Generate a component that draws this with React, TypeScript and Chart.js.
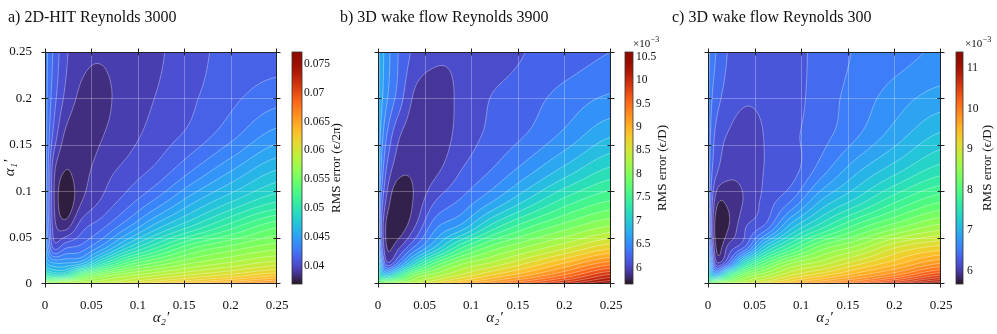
import React, { useEffect, useRef } from "react";
import { Chart, registerables } from "chart.js";

Chart.register(...registerables);

const alphaSamples = [0, 0.0025, 0.01, 0.0225, 0.04, 0.0625, 0.09, 0.1225, 0.16, 0.2025, 0.25];
const axisTicks = [0, 0.05, 0.1, 0.15, 0.2, 0.25];

// rows: alpha1' = alphaSamples[row] (bottom -> top); columns: alpha2' = alphaSamples[col]
const rmsHIT3000 = [
  [0.0771, 0.0610, 0.0578, 0.0582, 0.0594, 0.0610, 0.0626, 0.0642, 0.0658, 0.0670, 0.0682],
  [0.0549, 0.0561, 0.0557, 0.0570, 0.0578, 0.0586, 0.0598, 0.0614, 0.0628, 0.0642, 0.0658],
  [0.0509, 0.0501, 0.0489, 0.0493, 0.0537, 0.0561, 0.0576, 0.0588, 0.0600, 0.0612, 0.0626],
  [0.0477, 0.0457, 0.0449, 0.0449, 0.0457, 0.0497, 0.0533, 0.0553, 0.0570, 0.0582, 0.0594],
  [0.0457, 0.0437, 0.0404, 0.0416, 0.0422, 0.0443, 0.0478, 0.0509, 0.0537, 0.0553, 0.0565],
  [0.0449, 0.0428, 0.0392, 0.0384, 0.0404, 0.0416, 0.0437, 0.0465, 0.0490, 0.0515, 0.0537],
  [0.0445, 0.0424, 0.0388, 0.0370, 0.0388, 0.0400, 0.0414, 0.0432, 0.0456, 0.0478, 0.0497],
  [0.0441, 0.0424, 0.0390, 0.0378, 0.0384, 0.0394, 0.0402, 0.0412, 0.0429, 0.0449, 0.0469],
  [0.0439, 0.0426, 0.0404, 0.0386, 0.0382, 0.0388, 0.0395, 0.0403, 0.0412, 0.0426, 0.0443],
  [0.0437, 0.0428, 0.0412, 0.0396, 0.0386, 0.0386, 0.0393, 0.0399, 0.0407, 0.0416, 0.0424],
  [0.0437, 0.0429, 0.0416, 0.0400, 0.0391, 0.0389, 0.0393, 0.0397, 0.0405, 0.0412, 0.0414],
];

// x 10^-3
const rmsWake3900 = [
  [7.88, 7.98, 8.22, 8.47, 8.72, 8.97, 9.21, 9.51, 9.86, 10.20, 10.60],
  [7.73, 7.73, 7.88, 8.03, 8.27, 8.57, 8.87, 9.17, 9.51, 9.91, 10.35],
  [7.48, 7.14, 6.89, 7.36, 7.95, 8.20, 8.47, 8.77, 9.07, 9.46, 9.96],
  [7.28, 6.74, 6.02, 6.39, 7.09, 7.68, 8.09, 8.32, 8.62, 8.97, 9.36],
  [7.14, 6.39, 5.80, 5.95, 6.34, 6.84, 7.43, 7.85, 8.13, 8.41, 8.72],
  [7.04, 6.29, 5.75, 5.70, 5.98, 6.44, 6.69, 7.19, 7.58, 7.88, 8.13],
  [6.99, 6.37, 5.92, 5.65, 5.85, 6.15, 6.34, 6.62, 6.99, 7.37, 7.63],
  [6.96, 6.54, 6.10, 5.87, 5.84, 5.95, 6.15, 6.32, 6.57, 6.88, 7.18],
  [6.94, 6.64, 6.29, 6.00, 5.87, 5.87, 6.05, 6.19, 6.32, 6.53, 6.79],
  [6.91, 6.74, 6.49, 6.24, 5.95, 5.90, 6.02, 6.15, 6.24, 6.37, 6.49],
  [6.89, 6.76, 6.54, 6.30, 6.10, 6.01, 6.00, 6.05, 6.15, 6.23, 6.31],
];

// x 10^-3
const rmsWake300 = [
  [8.25, 8.37, 8.65, 8.94, 9.23, 9.51, 9.80, 10.14, 10.54, 10.94, 11.29],
  [7.97, 7.97, 8.25, 8.45, 8.74, 9.05, 9.40, 9.72, 10.05, 10.49, 10.94],
  [7.57, 7.28, 6.94, 7.74, 8.37, 8.65, 8.99, 9.26, 9.58, 9.94, 10.42],
  [7.28, 6.82, 6.02, 6.42, 7.45, 8.08, 8.54, 8.78, 9.11, 9.44, 9.80],
  [7.05, 6.48, 5.79, 6.05, 6.34, 7.20, 7.77, 8.29, 8.58, 9.00, 9.22],
  [6.94, 6.31, 5.71, 5.84, 6.14, 6.37, 7.04, 7.52, 7.96, 8.31, 8.59],
  [6.88, 6.37, 5.88, 5.88, 6.02, 6.22, 6.48, 6.97, 7.32, 7.72, 8.03],
  [6.82, 6.42, 6.17, 6.05, 6.05, 6.17, 6.25, 6.57, 6.92, 7.22, 7.51],
  [6.80, 6.48, 6.25, 6.14, 6.08, 6.17, 6.28, 6.42, 6.62, 6.88, 7.14],
  [6.77, 6.54, 6.37, 6.25, 6.18, 6.19, 6.25, 6.40, 6.54, 6.71, 6.85],
  [6.77, 6.60, 6.45, 6.30, 6.22, 6.21, 6.25, 6.38, 6.49, 6.57, 6.66],
];

const cbTicksHIT = [0.04, 0.045, 0.05, 0.055, 0.06, 0.065, 0.07, 0.075];
const cbTicks3900 = [6, 6.5, 7, 7.5, 8, 8.5, 9, 9.5, 10, 10.5];
const cbTicks300 = [6, 7, 8, 9, 10, 11];
const rangeHIT = [0.0368, 0.0771];
const range3900 = [5.65, 10.6];
const range300 = [5.68, 11.4];
const levelCountHIT = 40;
const levelCount3900 = 30;
const levelCount300 = 36;

const panelTitles = [
  "a) 2D-HIT Reynolds 3000",
  "b) 3D wake flow Reynolds 3900",
  "c) 3D wake flow Reynolds 300",
];
const colorbarLabels = ["RMS error (\u03f5/2\u03c0)", "RMS error (\u03f5/D)", "RMS error (\u03f5/D)"];
const xAxisLabel = "\u03b1\u2082\u2032";
const yAxisLabel = "\u03b1\u2081\u2032";

const SERIF = "'Liberation Serif', 'DejaVu Serif', 'Times New Roman', serif";
const INK = "#111";

function turbo(t: number): number[] {
  const x = Math.min(1, Math.max(0, t));
  const r = 0.13572138 + x * (4.6153926 + x * (-42.66032258 + x * (132.13108234 + x * (-152.94239396 + x * 59.28637943))));
  const g = 0.09140261 + x * (2.19418839 + x * (4.84296658 + x * (-14.18503333 + x * (4.27729857 + x * 2.82956604))));
  const b = 0.1066733 + x * (12.64194608 + x * (-60.58204836 + x * (110.36276771 + x * (-89.90310912 + x * 27.34824973))));
  const c = (v: number) => Math.max(0, Math.min(255, Math.round(v * 255)));
  return [c(r), c(g), c(b)];
}

function fracIndex(v: number, samples: number[]): number {
  const n = samples.length;
  if (!(v > samples[0])) return 0;
  if (v >= samples[n - 1]) return n - 1;
  let k = 0;
  while (k < n - 2 && samples[k + 1] <= v) k++;
  const a = Math.sqrt(samples[k]);
  const b = Math.sqrt(samples[k + 1]);
  return k + (Math.sqrt(v) - a) / (b - a);
}

function catmull(p0: number, p1: number, p2: number, p3: number, t: number) {
  return p1 + 0.5 * t * (p2 - p0 + t * (2 * p0 - 5 * p1 + 4 * p2 - p3 + t * (3 * (p1 - p2) + p3 - p0)));
}

function sampleField(field: number[][], fx: number, fy: number) {
  const nx = field[0].length;
  const ny = field.length;
  let i = Math.floor(fx);
  let j = Math.floor(fy);
  if (i > nx - 2) i = nx - 2;
  if (j > ny - 2) j = ny - 2;
  if (i < 0) i = 0;
  if (j < 0) j = 0;
  const tx = fx - i;
  const ty = fy - j;
  const at = (r: number, c: number) =>
    field[Math.max(0, Math.min(ny - 1, r))][Math.max(0, Math.min(nx - 1, c))];
  const col: number[] = [];
  for (let d = -1; d <= 2; d++) {
    const r = j + d;
    col.push(catmull(at(r, i - 1), at(r, i), at(r, i + 1), at(r, i + 2), tx));
  }
  return catmull(col[0], col[1], col[2], col[3], ty);
}

function fmt(v: any) {
  return String(parseFloat(Number(v).toFixed(4)));
}

type Panel = {
  key: string;
  field: number[][];
  range: number[];
  levels: number;
  cbTicks: number[];
  title: string;
  cbLabel: string;
  showY: boolean;
  padLeft: number;
  yWidth: number;
  padRight: number;
  cbWidth: number;
  titleX: number;
  cbGap: number;
  cbBar: number;
  cbLabelGap: number;
  cbTitleDx: number;
  expDx: number | null;
};

const panels: Panel[] = [
  {
    key: "a", field: rmsHIT3000, range: rangeHIT, levels: levelCountHIT, cbTicks: cbTicksHIT,
    title: panelTitles[0], cbLabel: colorbarLabels[0], showY: true,
    padLeft: 1, yWidth: 44, padRight: 650, cbWidth: 70, titleX: 8,
    cbGap: 15, cbBar: 10, cbLabelGap: 27, cbTitleDx: 60, expDx: null,
  },
  {
    key: "b", field: rmsWake3900, range: range3900, levels: levelCount3900, cbTicks: cbTicks3900,
    title: panelTitles[1], cbLabel: colorbarLabels[1], showY: false,
    padLeft: 368, yWidth: 10, padRight: 316, cbWidth: 70, titleX: 340,
    cbGap: 14, cbBar: 8, cbLabelGap: 25, cbTitleDx: 52, expDx: 22,
  },
  {
    key: "c", field: rmsWake300, range: range300, levels: levelCount300, cbTicks: cbTicks300,
    title: panelTitles[2], cbLabel: colorbarLabels[2], showY: false,
    padLeft: 698, yWidth: 10, padRight: 4, cbWidth: 52, titleX: 672,
    cbGap: 15, cbBar: 7, cbLabelGap: 26, cbTitleDx: 47, expDx: 24,
  },
];

function makeFieldPlugin(p: Panel) {
  return {
    id: "contourField_" + p.key,
    afterDraw(chart: any) {
      const ctx: CanvasRenderingContext2D = chart.ctx;
      const { left, top, right, bottom } = chart.chartArea;
      const xs = chart.scales.x;
      const ys = chart.scales.y;
      const cb = chart.scales.cb;
      const W = Math.round(right - left);
      const H = Math.round(bottom - top);
      const [vmin, vmax] = p.range;
      const N = p.levels;
      const step = (vmax - vmin) / N;

      const fxC: number[] = [];
      const fyC: number[] = [];
      for (let i = 0; i <= W; i++) fxC.push(fracIndex(xs.getValueForPixel(left + i), alphaSamples));
      for (let j = 0; j <= H; j++) fyC.push(fracIndex(ys.getValueForPixel(top + j), alphaSamples));
      const corner = new Float64Array((W + 1) * (H + 1));
      for (let j = 0; j <= H; j++)
        for (let i = 0; i <= W; i++) corner[j * (W + 1) + i] = sampleField(p.field, fxC[i], fyC[j]);

      const palette: number[][] = [];
      for (let k = 0; k < N; k++) palette.push(turbo((k + 0.5) / N));
      const off = document.createElement("canvas");
      off.width = W;
      off.height = H;
      const octx = off.getContext("2d")!;
      const img = octx.createImageData(W, H);
      const fxM: number[] = [];
      for (let i = 0; i < W; i++) fxM.push(fracIndex(xs.getValueForPixel(left + i + 0.5), alphaSamples));
      for (let j = 0; j < H; j++) {
        const fy = fracIndex(ys.getValueForPixel(top + j + 0.5), alphaSamples);
        for (let i = 0; i < W; i++) {
          const v = sampleField(p.field, fxM[i], fy);
          let k = Math.floor((v - vmin) / step);
          if (k < 0) k = 0;
          if (k > N - 1) k = N - 1;
          const c = palette[k];
          const o = (j * W + i) * 4;
          img.data[o] = c[0];
          img.data[o + 1] = c[1];
          img.data[o + 2] = c[2];
          img.data[o + 3] = 255;
        }
      }
      octx.putImageData(img, 0, 0);
      ctx.save();
      ctx.drawImage(off, left, top);

      // contour lines (marching squares)
      ctx.beginPath();
      for (let j = 0; j < H; j++) {
        for (let i = 0; i < W; i++) {
          const a = corner[j * (W + 1) + i];
          const b = corner[j * (W + 1) + i + 1];
          const c = corner[(j + 1) * (W + 1) + i + 1];
          const d = corner[(j + 1) * (W + 1) + i];
          const lo = Math.min(a, b, c, d);
          const hi = Math.max(a, b, c, d);
          const k0 = Math.max(1, Math.ceil((lo - vmin) / step));
          const k1 = Math.min(N - 1, Math.floor((hi - vmin) / step));
          for (let k = k0; k <= k1; k++) {
            const L = vmin + k * step;
            const pts: number[][] = [];
            if ((a < L) !== (b < L)) pts.push([left + i + (L - a) / (b - a), top + j]);
            if ((b < L) !== (c < L)) pts.push([left + i + 1, top + j + (L - b) / (c - b)]);
            if ((d < L) !== (c < L)) pts.push([left + i + (L - d) / (c - d), top + j + 1]);
            if ((a < L) !== (d < L)) pts.push([left + i, top + j + (L - a) / (d - a)]);
            if (pts.length >= 2) {
              ctx.moveTo(pts[0][0], pts[0][1]);
              ctx.lineTo(pts[1][0], pts[1][1]);
            }
            if (pts.length === 4) {
              ctx.moveTo(pts[2][0], pts[2][1]);
              ctx.lineTo(pts[3][0], pts[3][1]);
            }
          }
        }
      }
      ctx.strokeStyle = "rgba(255,255,255,0.42)";
      ctx.lineWidth = 0.8;
      ctx.stroke();

      // grid lines
      ctx.beginPath();
      for (const v of axisTicks) {
        if (v <= 0 || v >= 0.25) continue;
        const px = Math.round(xs.getPixelForValue(v)) + 0.5;
        ctx.moveTo(px, top);
        ctx.lineTo(px, bottom);
        const py = Math.round(ys.getPixelForValue(v)) + 0.5;
        ctx.moveTo(left, py);
        ctx.lineTo(right, py);
      }
      ctx.strokeStyle = "rgba(255,255,255,0.28)";
      ctx.lineWidth = 1;
      ctx.stroke();

      // frame and ticks
      ctx.strokeStyle = "#222";
      ctx.lineWidth = 1;
      ctx.strokeRect(left + 0.5, top + 0.5, W - 1, H - 1);
      ctx.beginPath();
      for (const v of axisTicks) {
        const px = Math.min(right - 0.5, Math.max(left + 0.5, Math.round(xs.getPixelForValue(v)) + 0.5));
        ctx.moveTo(px, bottom - 3.5);
        ctx.lineTo(px, bottom + 3.5);
        ctx.moveTo(px, top - 3.5);
        ctx.lineTo(px, top + 3.5);
        const py = Math.min(bottom - 0.5, Math.max(top + 0.5, Math.round(ys.getPixelForValue(v)) + 0.5));
        ctx.moveTo(left - 3.5, py);
        ctx.lineTo(left + 3.5, py);
        ctx.moveTo(right - 3.5, py);
        ctx.lineTo(right + 3.5, py);
      }
      ctx.stroke();

      // colorbar
      const cbx = right + p.cbGap;
      for (let j = 0; j < H; j++) {
        const v = cb.getValueForPixel(top + j + 0.5);
        const c = turbo((v - vmin) / (vmax - vmin));
        ctx.fillStyle = `rgb(${c[0]},${c[1]},${c[2]})`;
        ctx.fillRect(cbx, top + j, p.cbBar, 1);
      }
      ctx.strokeStyle = "#333";
      ctx.lineWidth = 0.8;
      ctx.strokeRect(cbx, top, p.cbBar, H);

      // colorbar label
      ctx.fillStyle = INK;
      ctx.save();
      ctx.translate(right + p.cbTitleDx, (top + bottom) / 2);
      ctx.rotate(-Math.PI / 2);
      ctx.textAlign = "center";
      ctx.textBaseline = "middle";
      ctx.font = `13px ${SERIF}`;
      ctx.fillText(p.cbLabel, 0, 0);
      ctx.restore();

      // exponent
      if (p.expDx !== null) {
        ctx.textAlign = "left";
        ctx.textBaseline = "alphabetic";
        ctx.font = `11px ${SERIF}`;
        const ex = right + p.expDx;
        ctx.fillText("\u00d710", ex, 47);
        const w = ctx.measureText("\u00d710").width;
        ctx.font = `8px ${SERIF}`;
        ctx.fillText("\u22123", ex + w + 0.5, 42);
      }

      // panel title
      ctx.textAlign = "left";
      ctx.textBaseline = "alphabetic";
      ctx.font = `16px ${SERIF}`;
      ctx.fillText(p.title, p.titleX, 22);
      ctx.restore();
    },
  };
}

function buildConfig(p: Panel): any {
  const setTicks = (vals: number[]) => (axis: any) => {
    axis.ticks = vals.map((value) => ({ value }));
  };
  return {
    type: "scatter",
    data: { datasets: [] },
    options: {
      responsive: false,
      animation: false,
      devicePixelRatio: 1,
      events: [],
      layout: { padding: { left: p.padLeft, right: p.padRight, top: 52, bottom: 7 } },
      plugins: { legend: { display: false }, tooltip: { enabled: false }, title: { display: false } },
      scales: {
        x: {
          type: "linear",
          position: "bottom",
          min: 0,
          max: 0.25,
          bounds: "data",
          afterBuildTicks: setTicks(axisTicks),
          afterFit: (s: any) => {
            s.height = 43;
          },
          grid: { display: false },
          border: { display: false },
          ticks: { autoSkip: false, maxRotation: 0, padding: 6, color: INK, font: { family: SERIF, size: 13 }, callback: fmt },
          title: { display: true, text: xAxisLabel, color: INK, font: { family: SERIF, size: 15, style: "italic" }, padding: 0 },
        },
        y: {
          type: "linear",
          position: "left",
          min: 0,
          max: 0.25,
          bounds: "data",
          afterBuildTicks: setTicks(axisTicks),
          afterFit: (s: any) => {
            s.width = p.yWidth;
          },
          grid: { display: false },
          border: { display: false },
          ticks: { display: p.showY, autoSkip: false, padding: 5, color: INK, font: { family: SERIF, size: 13 }, callback: fmt },
          title: { display: p.showY, text: yAxisLabel, color: INK, font: { family: SERIF, size: 15, style: "italic" }, padding: 0 },
        },
        cb: {
          type: "linear",
          position: "right",
          axis: "y",
          min: p.range[0],
          max: p.range[1],
          bounds: "data",
          afterBuildTicks: setTicks(p.cbTicks),
          afterFit: (s: any) => {
            s.width = p.cbWidth;
          },
          grid: { display: true, drawOnChartArea: false, drawTicks: true, tickLength: p.cbLabelGap, color: "rgba(0,0,0,0)" },
          border: { display: false },
          ticks: { autoSkip: false, padding: 0, color: INK, font: { family: SERIF, size: 11.5 }, callback: fmt },
        },
      },
    },
    plugins: [makeFieldPlugin(p)],
  };
}

function ContourPanel({ panel }: { panel: Panel }) {
  const ref = useRef<HTMLCanvasElement | null>(null);
  useEffect(() => {
    if (!ref.current) return;
    const chart = new Chart(ref.current, buildConfig(panel));
    return () => chart.destroy();
  }, [panel]);
  return (
    <canvas
      ref={ref}
      width={997}
      height={334}
      style={{ position: "absolute", left: 0, top: 0, width: 997, height: 334 }}
    />
  );
}

export default function App() {
  return (
    <div style={{ position: "fixed", left: 0, top: 0, width: 997, height: 334, background: "#fff", overflow: "hidden" }}>
      {panels.map((p) => (
        <ContourPanel key={p.key} panel={p} />
      ))}
    </div>
  );
}
